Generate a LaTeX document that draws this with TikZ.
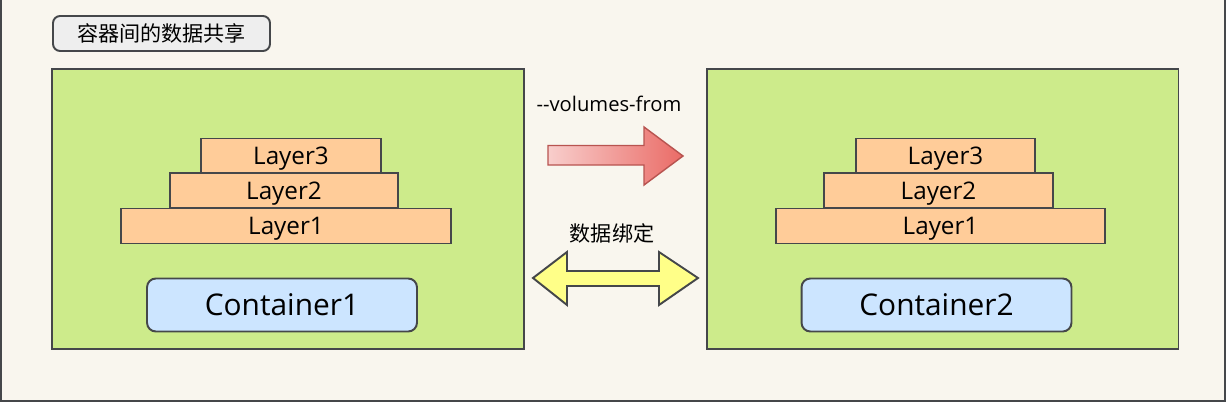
\documentclass[tikz,border=0pt]{standalone}
\usepackage{fontspec}
\setmainfont{Open Sans}
\newfontfamily\cjk{Noto Sans CJK SC}
\usetikzlibrary{positioning}

\definecolor{bgbeige}{HTML}{F9F6EE}
\definecolor{edgegray}{HTML}{45474A}
\definecolor{contgreen}{HTML}{CDEB8B}
\definecolor{layerorange}{HTML}{FFCC99}
\definecolor{contblue}{HTML}{CCE5FF}
\definecolor{titlegray}{HTML}{EEEEEE}
\definecolor{arrowpink}{HTML}{F8CECC}
\definecolor{arrowred}{HTML}{EA6B66}
\definecolor{arrowdark}{HTML}{B85450}
\definecolor{arrowyellow}{HTML}{FFFF88}

\begin{document}
\begin{tikzpicture}[x=0.02cm,y=-0.02cm,line width=1.1pt,outer sep=0pt,
  greenbox/.style={draw=edgegray, fill=contgreen, minimum width=9.44cm, minimum height=5.6cm},
  layerbox/.style={draw=edgegray, fill=layerorange, minimum height=0.7cm, text depth=0pt, font=\fontsize{13.8}{16}\selectfont},
  contbox/.style={draw=edgegray, fill=contblue, rounded corners=5pt, minimum width=5.4cm, minimum height=1.06cm, font=\fontsize{17}{20}\selectfont},
  titlebox/.style={draw=edgegray, fill=titlegray, rounded corners=4pt, minimum width=4.34cm, minimum height=0.7cm, font=\cjk\fontsize{12}{14}\selectfont}]
\useasboundingbox (0,0) rectangle (1226,402);
\fill[bgbeige] (0,0) rectangle (1226,402);
\draw[edgegray] (1,0) -- (1,401) -- (1225,401) -- (1225,0);

\node[titlebox] (title) at (161.5,33.5) {容器间的数据共享};

\node[greenbox] (box1) at (288,209) {};
\node[greenbox] (box2) at (942.5,209) {};

\node[layerbox, minimum width=3.6cm] (l3a) at (291,156) {Layer3};
\node[layerbox, minimum width=4.56cm] (l2a) at (284,190.5) {Layer2};
\node[layerbox, minimum width=6.6cm] (l1a) at (286,226) {Layer1};
\node[contbox] (c1) at (282,305) {Container1};

\node[layerbox, minimum width=3.58cm] (l3b) at (945.5,156) {Layer3};
\node[layerbox, minimum width=4.58cm] (l2b) at (938.5,190.5) {Layer2};
\node[layerbox, minimum width=6.58cm] (l1b) at (940.5,226) {Layer1};
\node[contbox] (c2) at (936.5,305) {Container2};

\node[font=\fontsize{11.5}{14}\selectfont] (vol) at (609,104) {-{}-volumes-from};
\node[font=\cjk\fontsize{12}{14}\selectfont] (bind) at (612,233) {数据绑定};

% one-way copy arrow
\path[draw=arrowdark, line width=0.8pt, left color=arrowpink, right color=arrowred]
  (548,145.5) -- (644,145.5) -- (644,127) -- (683,156) -- (644,185) -- (644,165) -- (548,165) -- cycle;
% two-way binding arrow
\draw[edgegray, fill=arrowyellow]
  (533,278) -- (567,252) -- (567,271) -- (659,271) -- (659,252) -- (698,278)
  -- (659,305) -- (659,286) -- (567,286) -- (567,305) -- cycle;
\end{tikzpicture}
\end{document}
